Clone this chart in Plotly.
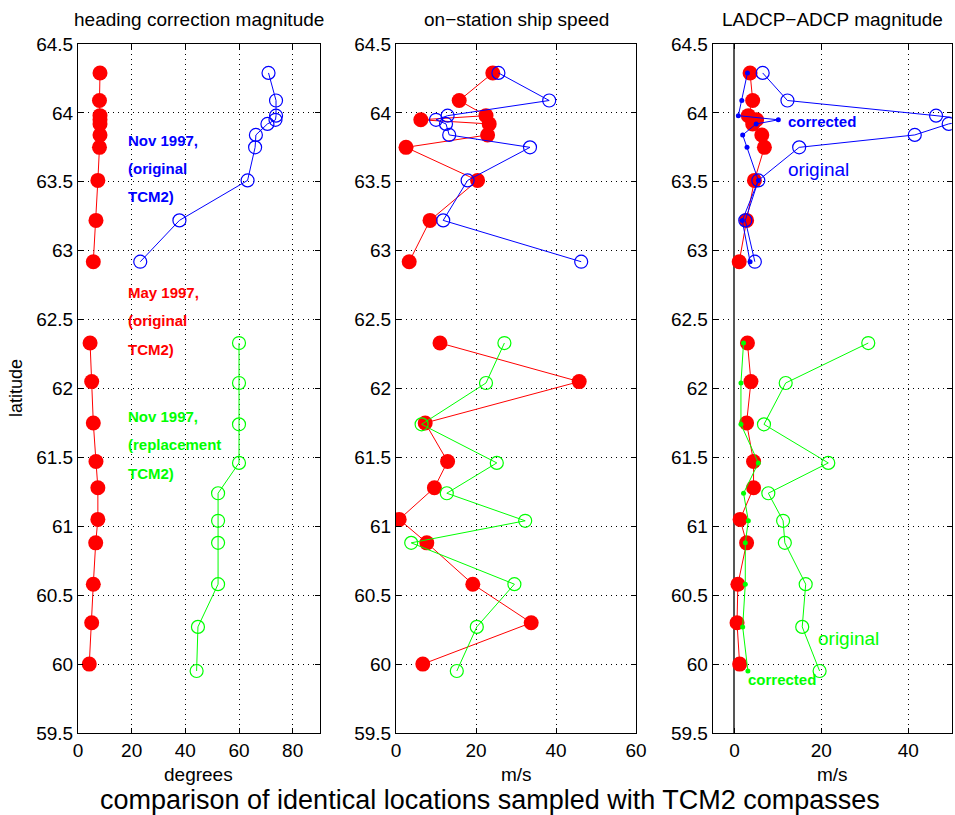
import plotly.graph_objects as go

# ---------------- data ----------------
lat_north = [64.29, 64.09, 63.98, 63.95, 63.92, 63.84, 63.75, 63.51, 63.22, 62.92]
lat_south_may = [62.33, 62.05, 61.75, 61.47, 61.28, 61.05, 60.88, 60.58, 60.30, 60.00]
lat_south_nov = [62.33, 62.04, 61.74, 61.46, 61.24, 61.04, 60.88, 60.58, 60.27, 59.95]

# heading correction magnitude (degrees)
hdg_may_north = [8.2, 8.0, 8.2, 8.2, 8.2, 8.2, 8.0, 7.4, 6.7, 5.7]
hdg_may_south = [4.5, 5.1, 5.7, 6.7, 7.4, 7.4, 6.6, 5.7, 5.1, 4.2]
hdg_nov_orig = [71.0, 73.8, 73.8, 73.6, 70.6, 66.3, 66.0, 63.2, 37.8, 23.2]
hdg_nov_repl = [60.0, 60.0, 60.0, 60.0, 52.2, 52.2, 52.2, 52.2, 44.7, 44.2]

# on-station ship speed (m/s)
spd_may_north = [24.2, 15.8, 22.5, 6.2, 23.3, 22.9, 2.5, 20.4, 8.5, 3.3]
spd_may_south = [11.0, 45.8, 7.3, 12.9, 9.6, 0.8, 7.7, 19.2, 33.8, 6.7]
spd_nov_north = [25.6, 38.3, 12.9, 10.0, 12.5, 13.3, 33.5, 17.9, 11.8, 46.3]
spd_nov_south = [27.1, 22.5, 6.4, 25.2, 12.7, 32.3, 3.8, 29.6, 20.2, 15.2]

# LADCP-ADCP magnitude (m/s)
lad_may_north = [3.6, 4.2, 3.2, 5.1, 4.2, 6.3, 6.9, 4.6, 2.8, 1.1]
lad_may_south = [3.0, 3.8, 2.8, 4.4, 4.4, 1.3, 2.8, 0.8, 0.6, 1.2]
lad_blue_orig = [6.5, 12.2, 46.4, 55.0, 49.3, 41.5, 14.9, 5.5, 2.5, 4.7]
lad_blue_corr = [3.0, 1.7, 0.9, 10.1, 5.0, 1.9, 2.9, 5.5, 1.8, 3.6]
lad_green_orig = [30.8, 11.8, 6.8, 21.6, 7.8, 11.2, 11.6, 16.4, 15.6, 19.6]
lad_green_corr = [2.1, 1.5, 1.5, 5.5, 2.1, 3.2, 2.5, 2.5, 1.9, 3.1]

lat_ticks = [59.5, 60, 60.5, 61, 61.5, 62, 62.5, 63, 63.5, 64, 64.5]
lat_ticktext = ["59.5", "60", "60.5", "61", "61.5", "62", "62.5", "63", "63.5", "64", "64.5"]

RED, BLUE, GREEN = "#ff0000", "#0000ff", "#00ff00"
FONT = "Liberation Sans, Arial, Helvetica, sans-serif"

fig = go.Figure()


def filled(x, y, xa, ya):
    fig.add_trace(go.Scatter(x=x, y=y, xaxis=xa, yaxis=ya, mode="lines+markers",
                             line=dict(color=RED, width=1),
                             marker=dict(color=RED, size=15, symbol="circle"),
                             showlegend=False, cliponaxis=True))


def opencirc(x, y, col, xa, ya):
    fig.add_trace(go.Scatter(x=x, y=y, xaxis=xa, yaxis=ya, mode="lines+markers",
                             line=dict(color=col, width=1),
                             marker=dict(color=col, size=13, symbol="circle-open",
                                         line=dict(width=1.2, color=col)),
                             showlegend=False, cliponaxis=True))


def dots(x, y, col, xa, ya):
    fig.add_trace(go.Scatter(x=x, y=y, xaxis=xa, yaxis=ya, mode="lines+markers",
                             line=dict(color=col, width=1),
                             marker=dict(color=col, size=5, symbol="circle"),
                             showlegend=False, cliponaxis=True))


# panel 1
filled(hdg_may_north, lat_north, "x", "y")
filled(hdg_may_south, lat_south_may, "x", "y")
opencirc(hdg_nov_orig, lat_north, BLUE, "x", "y")
opencirc(hdg_nov_repl, lat_south_nov, GREEN, "x", "y")

# panel 2
filled(spd_may_north, lat_north, "x2", "y2")
filled(spd_may_south, lat_south_may, "x2", "y2")
opencirc(spd_nov_north, lat_north, BLUE, "x2", "y2")
opencirc(spd_nov_south, lat_south_nov, GREEN, "x2", "y2")

# panel 3
filled(lad_may_north, lat_north, "x3", "y3")
filled(lad_may_south, lat_south_may, "x3", "y3")
opencirc(lad_blue_orig, lat_north, BLUE, "x3", "y3")
dots(lad_blue_corr, lat_north, BLUE, "x3", "y3")
opencirc(lad_green_orig, lat_south_nov, GREEN, "x3", "y3")
dots(lad_green_corr, lat_south_nov, GREEN, "x3", "y3")

W, H = 955, 815
ydom = [1 - 733 / H, 1 - 44 / H]
xdoms = [[78 / W, 319.5 / W], [396 / W, 636 / W], [712.7 / W, 951.7 / W]]

common_ax = dict(showline=True, mirror="ticks", linecolor="black", linewidth=1,
                 ticks="inside", ticklen=5, tickcolor="black",
                 showgrid=True, gridcolor="black", gridwidth=1, griddash="1px,4px",
                 tickfont=dict(family=FONT, size=19, color="black"),
                 zeroline=False, fixedrange=True, automargin=False)

layout = dict(width=W, height=H, margin=dict(l=0, r=0, t=0, b=0, pad=0, autoexpand=False),
              paper_bgcolor="white", plot_bgcolor="white", showlegend=False,
              font=dict(family=FONT, color="black"))

xranges = [[0, 90], [0, 60], [-5, 50]]
xtick_sets = [[0, 20, 40, 60, 80], [0, 20, 40, 60], [0, 20, 40]]
for i in range(3):
    sfx = "" if i == 0 else str(i + 1)
    xa = dict(common_ax, domain=xdoms[i], range=xranges[i], tickvals=xtick_sets[i],
              anchor="y" + sfx)
    if i == 2:
        xa.update(zeroline=True, zerolinecolor="#555555", zerolinewidth=2)
    ya = dict(common_ax, domain=ydom, range=[59.5, 64.5], tickvals=lat_ticks,
              ticktext=lat_ticktext, anchor="x" + sfx)
    layout["xaxis" + sfx] = xa
    layout["yaxis" + sfx] = ya

fig.update_layout(**layout)


def ann(text, x, y, size, color="black", bold=False, xanchor="center", angle=0):
    if bold:
        text = "<b>" + text + "</b>"
    fig.add_annotation(text=text, x=x / W, y=1 - y / H, xref="paper", yref="paper",
                       showarrow=False, xanchor=xanchor, yanchor="middle",
                       textangle=angle,
                       font=dict(family=FONT, size=size, color=color))


# titles and axis labels
ann("heading correction magnitude", 199, 20, 19)
ann("on\u2212station ship speed", 516, 20, 19)
ann("LADCP\u2212ADCP magnitude", 832, 20, 19)
ann("degrees", 198.5, 774, 19)
ann("m/s", 516, 774, 19)
ann("m/s", 832, 774, 19)
ann("latitude", 16, 388, 18, angle=-90)
ann("comparison of identical locations sampled with TCM2 compasses", 490, 800, 27)

# panel 1 labels
for t, yy in zip(["Nov 1997,", "(original", "TCM2)"], [140, 168, 196.5]):
    ann(t, 126, yy, 15, BLUE, True, "left")
for t, yy in zip(["May 1997,", "(original", "TCM2)"], [293, 321, 349]):
    ann(t, 126, yy, 15, RED, True, "left")
for t, yy in zip(["Nov 1997,", "(replacement", "TCM2)"], [416.5, 445, 473]):
    ann(t, 126, yy, 15, GREEN, True, "left")

# panel 3 labels
ann("corrected", 786, 121, 15, BLUE, True, "left")
ann("original", 786, 169, 19, BLUE, False, "left")
ann("original", 816, 638, 19, GREEN, False, "left")
ann("corrected", 746, 679, 15, GREEN, True, "left")

fig.write_html("out.html")
